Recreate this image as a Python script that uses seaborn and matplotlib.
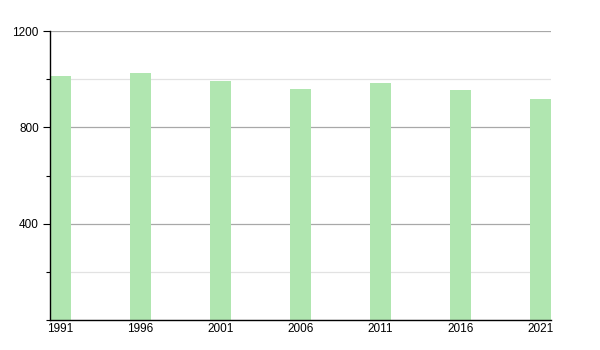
import matplotlib
matplotlib.use("Agg")
import matplotlib.pyplot as plt
import seaborn as sns
import pandas as pd
from matplotlib.ticker import MultipleLocator

years = ["1991", "1996", "2001", "2006", "2011", "2016", "2021"]
population = [1013, 1026, 993, 959, 984, 957, 918]

sns.set_style("white")
plt.rcParams['font.family'] = ['Liberation Sans', 'DejaVu Sans']

df = pd.DataFrame({"year": years, "pop": population})

fig = plt.figure(figsize=(6, 3.5), dpi=100)
ax = fig.add_axes([50/600, 30/350, 501/600, 289/350])

bw = 0.2625
sns.barplot(data=df, x="year", y="pop", ax=ax, color="#b0e6b0", saturation=1,
            width=bw, edgecolor="none", zorder=3)

ax.set_xlim(-bw/2, len(years) - 1 + bw/2)
ax.set_ylim(0, 1200)
ax.yaxis.set_major_locator(MultipleLocator(400))
ax.yaxis.set_minor_locator(MultipleLocator(200))
ax.set_yticks([400, 800, 1200])
ax.set_yticklabels(["400", "800", "1200"])

ax.grid(True, which="major", axis="y", color="#a8a8a8", linewidth=0.9, zorder=1)
ax.grid(True, which="minor", axis="y", color="#e2e2e2", linewidth=0.9, zorder=1)
ax.set_axisbelow(True)

for s in ["top", "right"]:
    ax.spines[s].set_visible(False)
for s in ["left", "bottom"]:
    ax.spines[s].set_color("black")
    ax.spines[s].set_linewidth(1.0)
    ax.spines[s].set_zorder(4)

ax.tick_params(axis="y", which="major", direction="out", length=5, width=0.8,
               color="black", labelcolor="black", labelsize=8.5, pad=3, left=True)
ax.tick_params(axis="y", which="minor", direction="out", length=3, width=0.8,
               color="black", left=True)
ax.tick_params(axis="x", which="both", length=0, labelsize=8.5, pad=2,
               labelcolor="black")

ax.set_xlabel("")
ax.set_ylabel("")

fig.savefig("out.png", dpi=100, facecolor="white")
